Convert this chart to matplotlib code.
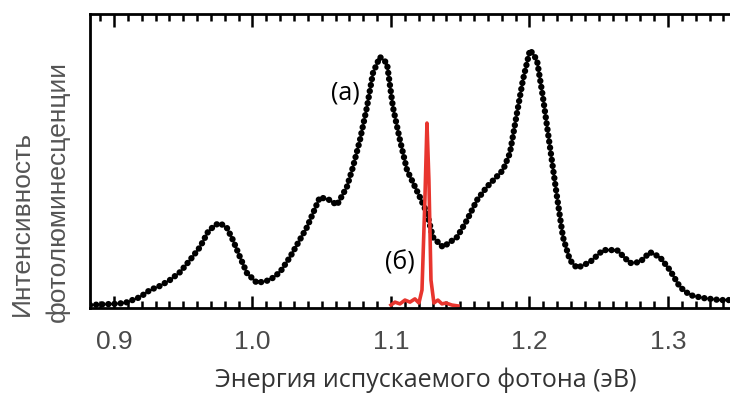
import matplotlib
matplotlib.use('Agg')
import matplotlib.pyplot as plt
from matplotlib.ticker import MultipleLocator

# photoluminescence spectrum (a), black dotted
energy_a = [0.8827, 0.8899, 0.9, 0.9079, 0.9188, 0.926, 0.9332, 0.9404, 0.9477,
            0.9549, 0.9621, 0.9679, 0.9729, 0.9765, 0.9816, 0.9859, 0.991, 0.996,
            1.0033, 1.0126, 1.0199, 1.0271, 1.0394, 1.0487, 1.056, 1.061, 1.0682,
            1.0726, 1.0776, 1.0827, 1.087, 1.092, 1.0971, 1.1014, 1.1065, 1.1116,
            1.1209, 1.126, 1.1303, 1.1375, 1.1477, 1.1549, 1.1621, 1.1693, 1.1809,
            1.1859, 1.191, 1.1953, 1.2004, 1.2054, 1.2097, 1.2148, 1.2199, 1.2242,
            1.2292, 1.2343, 1.2437, 1.2531, 1.2632, 1.2726, 1.2798, 1.287, 1.2942,
            1.3014, 1.3087, 1.3159, 1.3253, 1.3375, 1.3448]
intens_a = [0.010, 0.012, 0.014, 0.017, 0.037, 0.061, 0.075, 0.095, 0.122,
            0.163, 0.207, 0.259, 0.282, 0.289, 0.272, 0.231, 0.173, 0.119,
            0.085, 0.095, 0.122, 0.173, 0.275, 0.377, 0.367, 0.350, 0.412,
            0.480, 0.571, 0.684, 0.799, 0.854, 0.833, 0.684, 0.571, 0.469,
            0.377, 0.323, 0.241, 0.207, 0.241, 0.299, 0.367, 0.412, 0.469,
            0.527, 0.663, 0.776, 0.878, 0.844, 0.718, 0.548, 0.378, 0.241,
            0.163, 0.136, 0.156, 0.197, 0.197, 0.153, 0.156, 0.190, 0.173,
            0.129, 0.071, 0.044, 0.034, 0.027, 0.027]

# single-line emission (б), red
energy_b = [1.1, 1.1029, 1.1065, 1.1101, 1.1137, 1.1173, 1.1202, 1.1224, 1.1245,
            1.126, 1.1274, 1.1289, 1.131, 1.1339, 1.1368, 1.1397, 1.144, 1.1484]
intens_b = [0.010, 0.020, 0.014, 0.027, 0.020, 0.031, 0.017, 0.061, 0.367,
            0.629, 0.435, 0.095, 0.017, 0.027, 0.014, 0.017, 0.010, 0.007]

xticks = [0.9, 1.0, 1.1, 1.2, 1.3]
xticklabels = ['0.9', '1.0', '1.1', '1.2', '1.3']

fig = plt.figure(figsize=(7.3, 3.94), dpi=100)
ax = fig.add_axes([90 / 730, 86 / 394, 640 / 730, 294 / 394])

ax.plot(energy_a, intens_a, color='black', lw=4.6,
        linestyle=(0, (0.01, 0.95)), dash_capstyle='round')
ax.plot(energy_b, intens_b, color='#e8352e', lw=2.6)

ax.set_xlim(0.8827, 1.3448)
ax.set_ylim(0, 1)

ax.set_xticks(xticks)
ax.set_xticklabels(xticklabels, fontsize=19, color='#4a4a4a', family='Liberation Sans')
ax.xaxis.set_minor_locator(MultipleLocator(0.01))
ax.tick_params(axis='x', which='both', direction='in', top=True, width=1.8)
ax.tick_params(axis='x', which='major', length=9, pad=16)
ax.tick_params(axis='x', which='minor', length=5)
ax.set_yticks([])

for side in ['left', 'bottom', 'top']:
    ax.spines[side].set_linewidth(2)
ax.spines['right'].set_visible(False)

fig.text(426 / 730, 14 / 394, 'Энергия испускаемого фотона (эВ)', ha='center',
         va='center', fontsize=18, color='#333333', family='Open Sans')
fig.text(22 / 730, 78 / 394, 'Интенсивность', rotation=90, ha='center', va='bottom',
         fontsize=19, color='#555555', family='Liberation Sans')
fig.text(58 / 730, 72 / 394, 'фотолюминесценции', rotation=90, ha='center', va='bottom',
         fontsize=19, color='#555555', family='Liberation Sans')

ax.text(1.0668, 0.731, '(a)', fontsize=18, ha='center', va='center', family='Open Sans')
ax.text(1.1065, 0.153, '(б)', fontsize=18, ha='center', va='center', family='Open Sans')

fig.savefig('out.png', dpi=100)
